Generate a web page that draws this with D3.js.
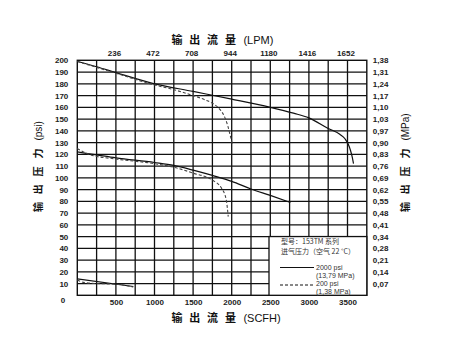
<!DOCTYPE html>
<html><head><meta charset="utf-8">
<script src="https://cdn.jsdelivr.net/npm/d3@7"></script>
<style>
html,body{margin:0;padding:0;background:#fff;}
svg{display:block;}
</style></head>
<body>
<script>
// ---- data ----
const scfhTicks = [500, 1000, 1500, 2000, 2500, 3000, 3500];
const lpmLabels = ["236", "472", "708", "944", "1180", "1416", "1652"];
const psiTicks = [0,10,20,30,40,50,60,70,80,90,100,110,120,130,140,150,160,170,180,190,200];
const mpaTicks = [10,20,30,40,50,60,70,80,90,100,110,120,130,140,150,160,170,180,190,200];
const mpaLabels = ["0,07","0,14","0,21","0,28","0,34","0,41","0,48","0,55","0,62","0,69","0,76","0,83","0,90","0,97","1,03","1,10","1,17","1,24","1,31","1,38"];

// series: [SCFH, psi]
const high2000 = [[0,199],[250,194.5],[500,189.5],[1000,180],[1500,173.5],[2000,167],[2500,160],[2800,155],[3000,151],[3250,142],[3400,137],[3470,133],[3510,128.5],[3540,123],[3560,118],[3578,112]];
const high200  = [[0,199],[250,194],[500,189],[1000,179],[1250,175],[1500,170],[1650,166.5],[1750,163.5],[1850,158],[1900,153],[1950,144],[1985,135],[2010,128]];
const mid2000  = [[0,122],[250,119.5],[500,117],[1000,113],[1250,110.5],[1500,106.5],[1750,102],[2000,97],[2250,90.5],[2500,85],[2760,79]];
const mid200   = [[0,125],[80,122],[170,119.5],[500,116],[1000,112],[1250,109],[1500,104],[1750,98],[1870,91],[1930,81],[1955,67]];
const low2000  = [[0,14],[725,7.5]];
const low200   = [[0,13],[80,11],[250,10],[500,9.5],[725,7]];

const W = 457, H = 357;
const svg = d3.select("body").append("svg").attr("width", W).attr("height", H);

const x = d3.scaleLinear().domain([0, 3750]).range([77.3, 366.8]);
const y = d3.scaleLinear().domain([0, 200]).range([295.3, 60.3]);

const ink = "#111";
const tickFont = "'Liberation Sans', Arial, sans-serif";
const cjkFont = "'Noto Sans CJK SC', 'Noto Sans', sans-serif";

// grid
const g = svg.append("g");
g.selectAll("line.v").data(d3.range(250, 3750, 250)).join("line")
  .attr("x1", d => x(d)).attr("x2", d => x(d)).attr("y1", y(200)).attr("y2", y(0))
  .attr("stroke", ink).attr("stroke-width", 1.3);
g.selectAll("line.h").data(d3.range(10, 200, 10)).join("line")
  .attr("x1", x(0)).attr("x2", x(3750)).attr("y1", d => y(d)).attr("y2", d => y(d))
  .attr("stroke", ink).attr("stroke-width", 1.3);
g.append("rect").attr("x", x(0)).attr("y", y(200)).attr("width", x(3750) - x(0)).attr("height", y(0) - y(200))
  .attr("fill", "none").attr("stroke", ink).attr("stroke-width", 1.4);

// curves
const line = d3.line().x(d => x(d[0])).y(d => y(d[1])).curve(d3.curveMonotoneX);
const solid = [high2000, mid2000, low2000];
const dashed = [high200, mid200, low200];
svg.selectAll("path.s").data(solid).join("path").attr("class", "s").attr("d", line)
  .attr("fill", "none").attr("stroke", "#111").attr("stroke-width", 1.2);
svg.selectAll("path.d").data(dashed).join("path").attr("class", "d").attr("d", line)
  .attr("fill", "none").attr("stroke", "#444").attr("stroke-width", 1.1).attr("stroke-dasharray", "3,2");

// legend box
const lg = svg.append("g");
lg.append("rect").attr("x", 269).attr("y", y(50)).attr("width", x(3750) - 269).attr("height", y(0) - y(50))
  .attr("fill", "#fff").attr("stroke", ink).attr("stroke-width", 1.3);
lg.append("text").attr("x", 281).attr("y", 244).text("型号：153TM 系列")
  .attr("font-family", cjkFont).attr("font-size", 7).attr("fill", "#333");
lg.append("text").attr("x", 281).attr("y", 254).text("进气压力（空气 22 °C）")
  .attr("font-family", cjkFont).attr("font-size", 7).attr("fill", "#333");
lg.append("line").attr("x1", 280).attr("x2", 314).attr("y1", 267.5).attr("y2", 267.5).attr("stroke", "#111").attr("stroke-width", 1);
lg.append("line").attr("x1", 280).attr("x2", 314).attr("y1", 285).attr("y2", 285).attr("stroke", "#111").attr("stroke-width", 1).attr("stroke-dasharray", "3,2");
const legTxt = [["2000 psi", 269.5], ["(13,79 MPa)", 277.8], ["200 psi", 286.1], ["(1,38 MPa)", 294.3]];
lg.selectAll("text.l").data(legTxt).join("text").attr("class", "l").attr("x", 316).attr("y", d => d[1]).text(d => d[0])
  .attr("font-family", tickFont).attr("font-size", 7).attr("fill", "#333");

// axes (ticks hidden, labels only)
function styleAxis(sel) {
  sel.select(".domain").remove();
  sel.selectAll(".tick line").remove();
  sel.selectAll(".tick text").attr("font-family", tickFont).attr("font-weight", "bold").attr("font-size", 8).attr("fill", "#222");
}
const axB = svg.append("g").attr("transform", `translate(0,${y(0)})`)
  .call(d3.axisBottom(x).tickValues(scfhTicks).tickSize(0).tickPadding(4).tickFormat(d3.format("d")));
styleAxis(axB);
const axT = svg.append("g").attr("transform", `translate(-2,${y(200)})`)
  .call(d3.axisTop(x).tickValues(scfhTicks).tickSize(0).tickPadding(4).tickFormat((d, i) => lpmLabels[i]));
styleAxis(axT);
const axL = svg.append("g").attr("transform", `translate(${x(0) - 9},0)`)
  .call(d3.axisLeft(y).tickValues(psiTicks).tickSize(0).tickPadding(0).tickFormat(d3.format("d")));
styleAxis(axL);
axL.selectAll(".tick").filter(d => d === 0).select("text").attr("dy", "0.95em").attr("x", -3);
const axR = svg.append("g").attr("transform", `translate(${x(3750) + 6},0)`)
  .call(d3.axisRight(y).tickValues(mpaTicks).tickSize(0).tickPadding(0).tickFormat((d, i) => mpaLabels[i]));
styleAxis(axR);

// titles
function cjkTitle(chars, suffix, cx0, yy) {
  const grp = svg.append("g");
  chars.forEach((c, i) => {
    grp.append("text").attr("x", cx0 + i * 17.8).attr("y", yy).attr("text-anchor", "middle")
      .attr("font-family", cjkFont).attr("font-weight", "bold").attr("font-size", 11).attr("fill", "#111").text(c);
  });
  grp.append("text").attr("x", cx0 + (chars.length - 1) * 17.8 + 13).attr("y", yy)
    .attr("font-family", tickFont).attr("font-size", 11).attr("fill", "#111").text(suffix);
  return grp;
}
cjkTitle(["输", "出", "流", "量"], "(LPM)", 177, 44);
cjkTitle(["输", "出", "流", "量"], "(SCFH)", 177, 322);
// vertical titles
const lt = cjkTitle(["输", "出", "压", "力"], "(psi)", 0, 0);
lt.attr("transform", `translate(42,207) rotate(-90)`);
lt.selectAll("text").attr("font-size", 10);
const rt = cjkTitle(["输", "出", "压", "力"], "(MPa)", 0, 0);
rt.attr("transform", `translate(409,207) rotate(-90)`);
rt.selectAll("text").attr("font-size", 10);
</script>
</body></html>
